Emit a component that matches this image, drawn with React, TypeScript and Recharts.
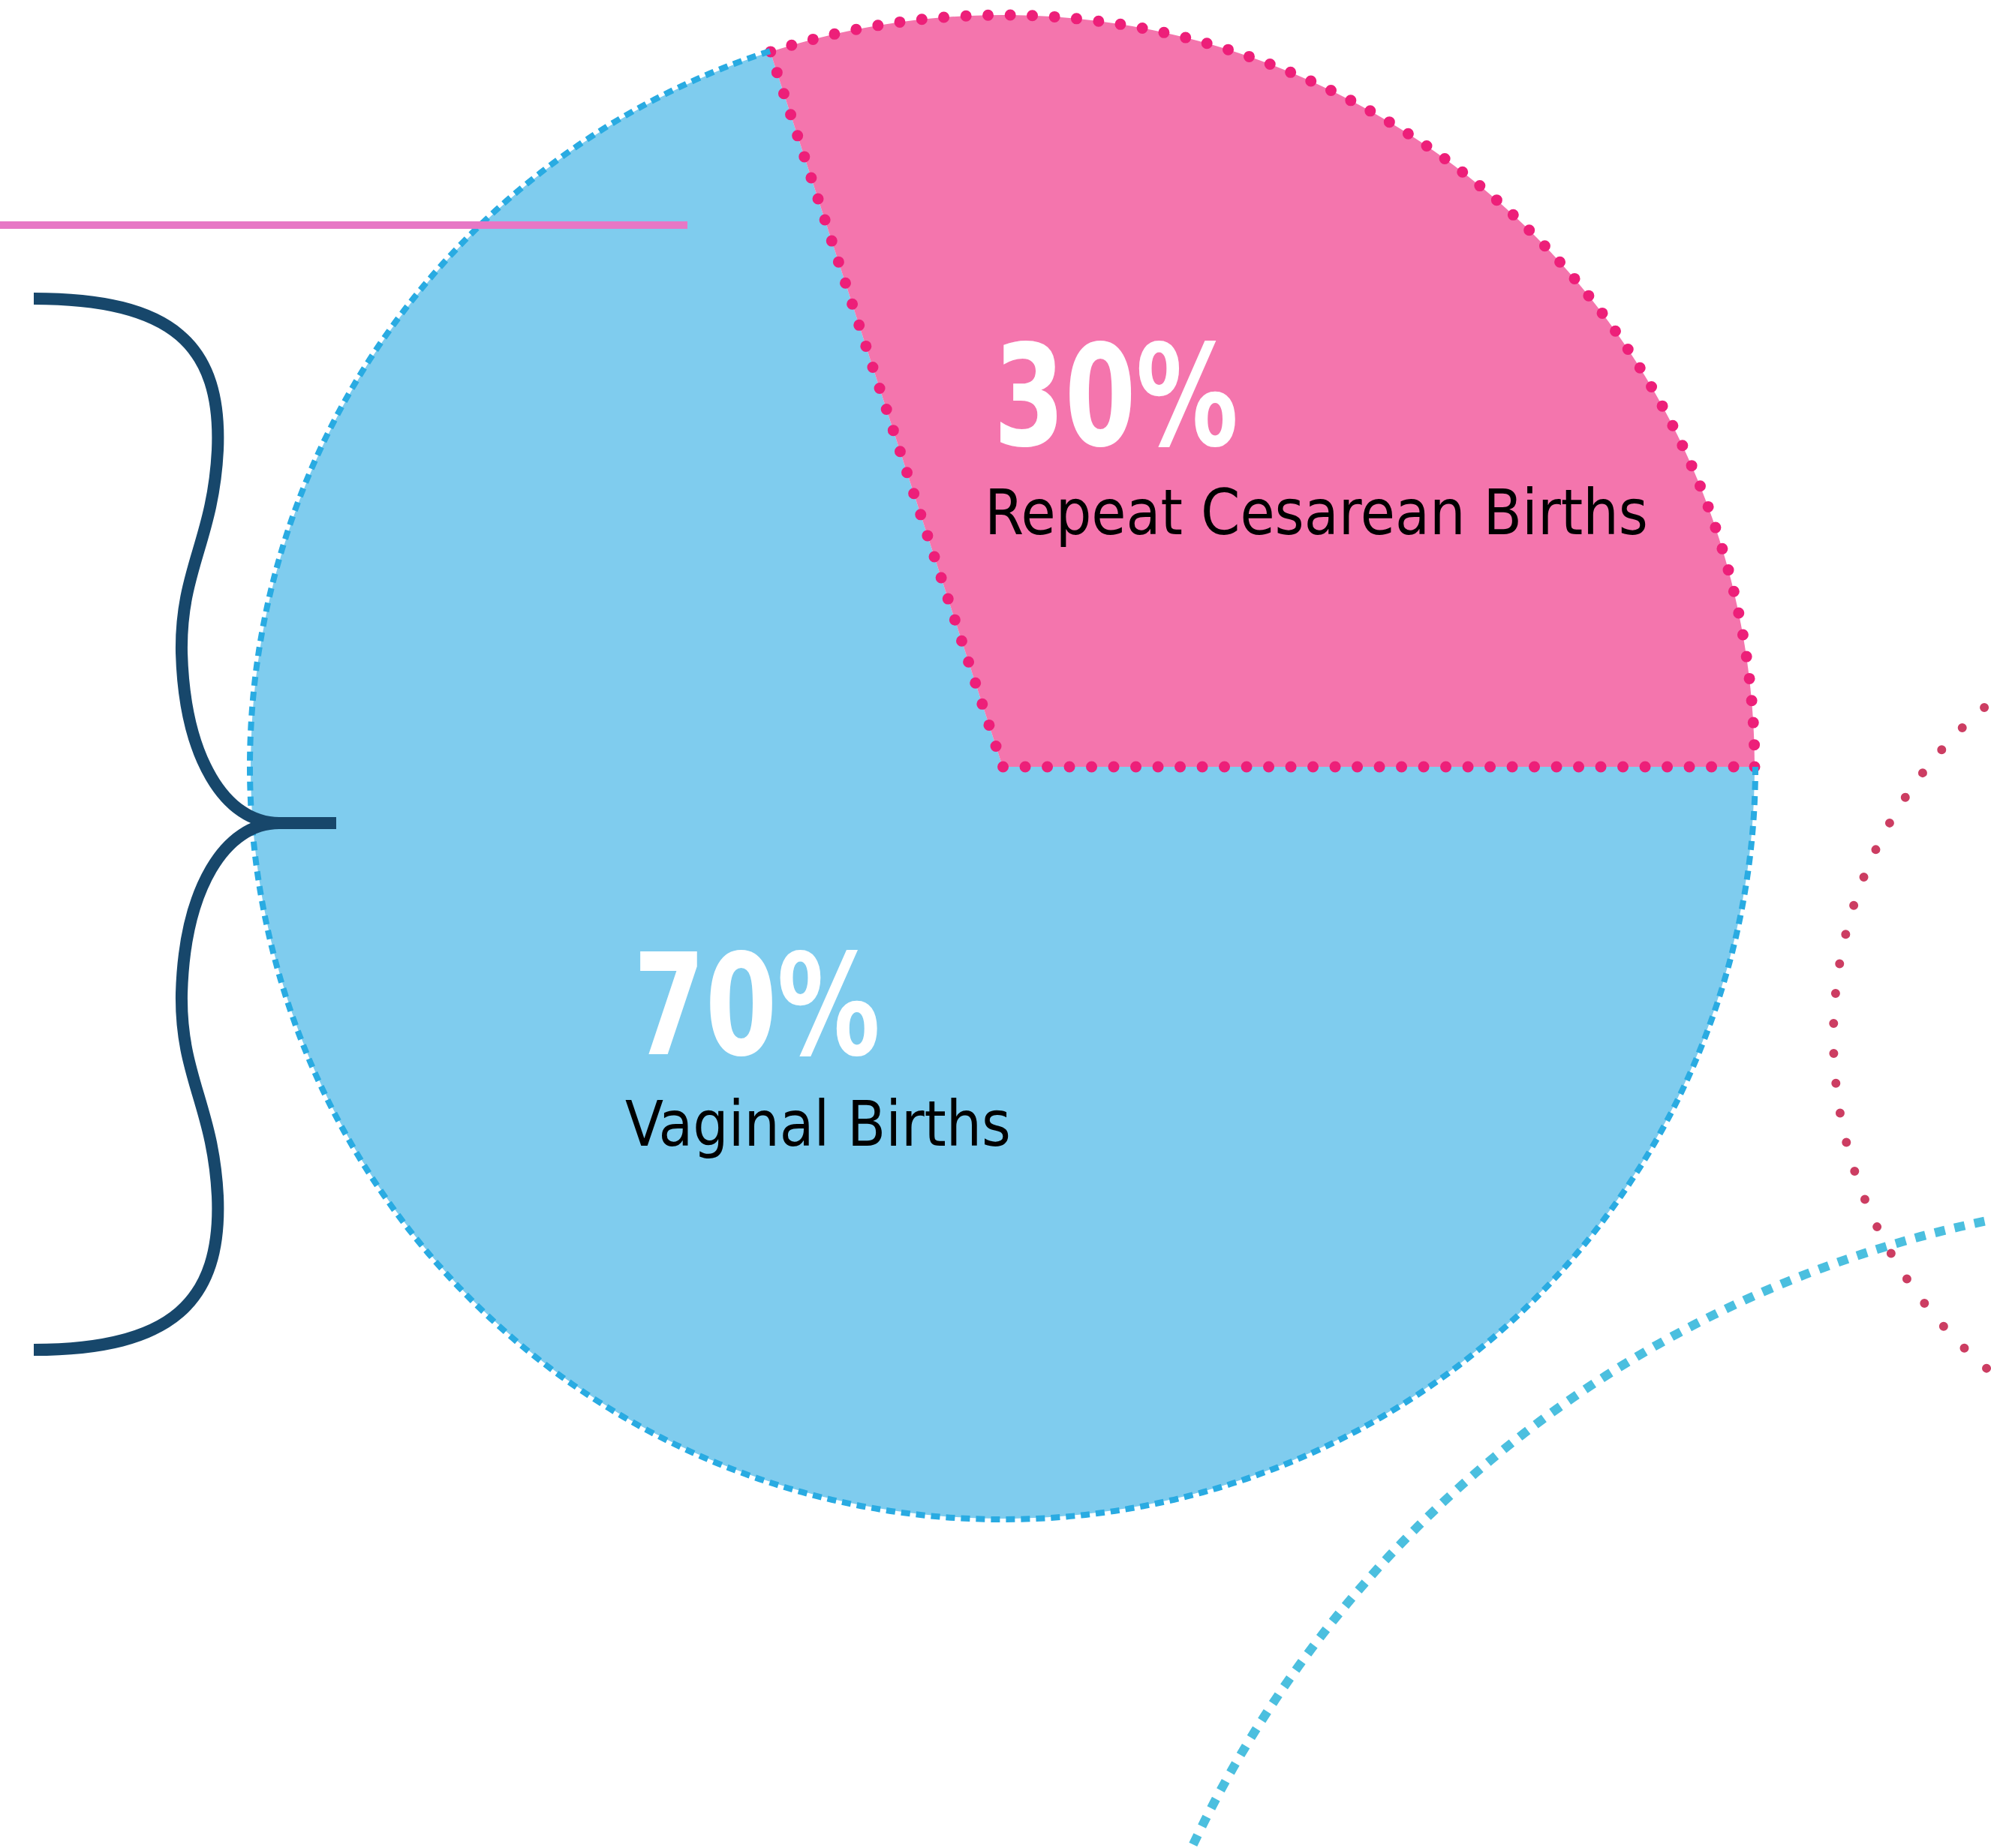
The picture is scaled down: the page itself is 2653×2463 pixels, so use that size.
import { PieChart, Pie, Cell } from "recharts";

// slices, in drawing order (pink last so its dotted edge sits on top)
const categories = ["Vaginal Births", "Repeat Cesarean Births"];
const shares = [70, 30];
const fills = ["#7FCCEE", "#F475AD"];

const data = categories.map((name, i) => ({ name, value: shares[i] }));

const W = 2653;
const H = 2463;
const CX = 1336;
const CY = 1022;
const R = 1002;

// label offsets from pie centre: [pctX, pctY, nameX, nameY]
const labelPos = [
  [-492, 383, -503, 505],
  [-12, -429, -24, -310],
];
const pctWidth = [329, 326];
const nameWidth = [514, 884];

const rad = Math.PI / 180;

const renderLabel = (props: any) => {
  const { cx, cy, outerRadius, startAngle, endAngle, index, percent, name } = props;
  const [px, py, nx, ny] = labelPos[index];
  let arc = null;
  if (index === 0) {
    const r = outerRadius + 1;
    const x1 = cx + r * Math.cos(startAngle * rad);
    const y1 = cy - r * Math.sin(startAngle * rad);
    const x2 = cx + r * Math.cos(endAngle * rad);
    const y2 = cy - r * Math.sin(endAngle * rad);
    const large = Math.abs(endAngle - startAngle) > 180 ? 1 : 0;
    arc = (
      <path
        d={`M ${x1},${y1} A ${r},${r} 0 ${large} 0 ${x2},${y2}`}
        fill="none"
        stroke="#29ABE2"
        strokeWidth={8}
        strokeDasharray="12 8"
      />
    );
  }
  return (
    <g key={`lbl-${index}`}>
      {arc}
      <text
        x={cx + px}
        y={cy + py}
        fill="#fff"
        fontFamily="'DejaVu Sans Condensed', 'DejaVu Sans', sans-serif"
        fontWeight="bold"
        fontSize={188}
        textLength={pctWidth[index]}
        lengthAdjust="spacingAndGlyphs"
      >
        {`${Math.round(percent * 100)}%`}
      </text>
      <text
        x={cx + nx}
        y={cy + ny}
        fill="#000"
        fontFamily="'DejaVu Sans Condensed', 'DejaVu Sans', sans-serif"
        fontSize={83}
        textLength={nameWidth[index]}
        lengthAdjust="spacingAndGlyphs"
      >
        {name}
      </text>
    </g>
  );
};

export default function App() {
  return (
    <div style={{ position: "absolute", left: 0, top: 0, width: W, height: H, background: "#fff" }}>
      <PieChart width={W} height={H} margin={{ top: 0, right: 0, bottom: 0, left: 0 }}>
        <Pie
          data={data}
          dataKey="value"
          nameKey="name"
          cx={CX}
          cy={CY}
          outerRadius={R}
          startAngle={108}
          endAngle={468}
          label={renderLabel}
          labelLine={false}
          isAnimationActive={false}
        >
          <Cell fill={fills[0]} stroke="none" />
          <Cell
            fill={fills[1]}
            stroke="#ED1F79"
            strokeWidth={15}
            strokeDasharray="0 29.5"
            strokeLinecap="round"
          />
        </Pie>
      </PieChart>
      <svg
        width={W}
        height={H}
        style={{ position: "absolute", left: 0, top: 0, pointerEvents: "none" }}
      >
        <rect x={0} y={295} width={916} height={10} fill="#E777C5" />
        <path
          d="M 45,398 C 230,398 296,460 290,600 C 284,720 240,760 242,870 C 246,1010 300,1097 372,1097 L 448,1097 M 372,1097 C 300,1097 246,1184 242,1324 C 240,1434 284,1474 290,1594 C 296,1734 230,1799 45,1799"
          fill="none"
          stroke="#17476B"
          strokeWidth={16}
        />
        <circle
          cx={3023}
          cy={1382}
          r={580}
          fill="none"
          stroke="#CC3D62"
          strokeWidth={12}
          strokeDasharray="0 40"
          strokeLinecap="round"
        />
        <circle
          cx={2952}
          cy={3103}
          r={1507}
          fill="none"
          stroke="#4BBFDF"
          strokeWidth={12}
          strokeDasharray="14 13"
        />
      </svg>
    </div>
  );
}
